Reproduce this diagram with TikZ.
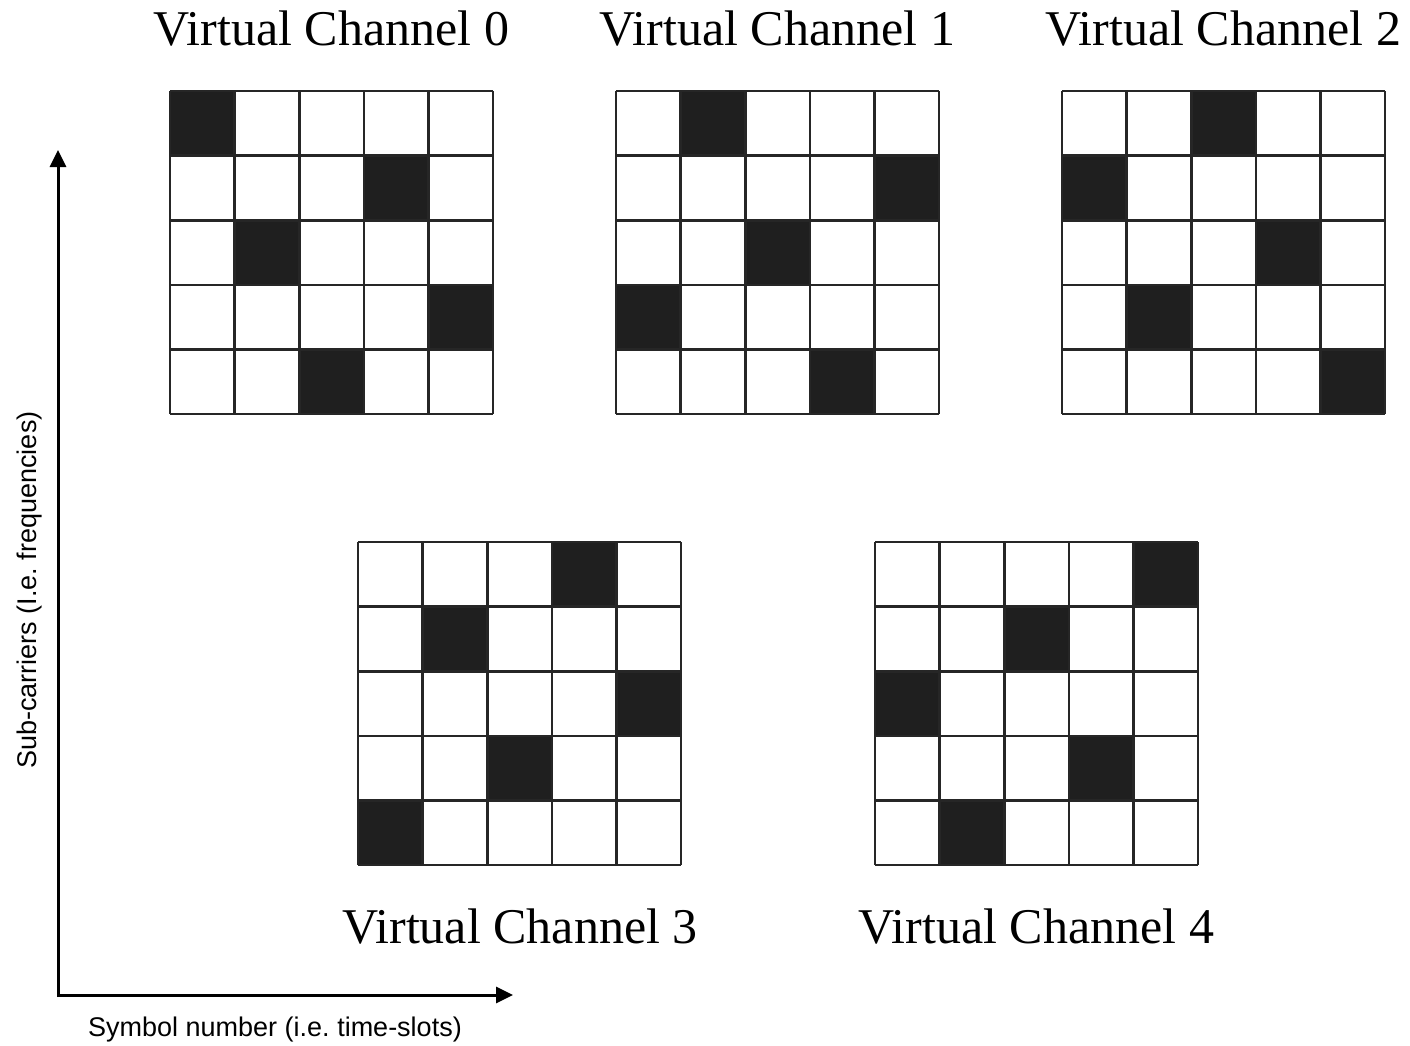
\documentclass[tikz,border=0pt]{standalone}
\usepackage{fontspec}
\setmainfont{Liberation Serif}
\setsansfont{Liberation Sans}
\usetikzlibrary{arrows.meta}
\frenchspacing
\begin{document}
\begin{tikzpicture}[x=1pt,y=-1pt,
  gridline/.style={line width=2.6pt,black!85},
  blackcell/.style={fill=black!88,draw=none},
  title/.style={font=\fontsize{50}{60}\selectfont,anchor=base,inner sep=0pt},
  axislabel/.style={font=\sffamily\fontsize{27}{32}\selectfont\frenchspacing,inner sep=0pt},
  axis/.style={line width=3pt,-{Triangle[length=17pt,width=16pt]}}]
\useasboundingbox[fill=white] (0,0) rectangle (1410,1045);
\def\cs{64.6}
\newcommand\mygrid[3]{%
  \begin{scope}[shift={(#1,#2)}]
    \foreach \r/\c in {#3}{\fill[blackcell] (\c*\cs,\r*\cs) rectangle ++(\cs,\cs);}
    \foreach \i in {0,...,5}{%
      \draw[gridline] (\i*\cs,0) -- (\i*\cs,5*\cs);
      \draw[gridline] (0,\i*\cs) -- (5*\cs,\i*\cs);}
  \end{scope}}
\mygrid{170}{91}{0/0,1/3,2/1,3/4,4/2}
\mygrid{616}{91}{0/1,1/4,2/2,3/0,4/3}
\mygrid{1062}{91}{0/2,1/0,2/3,3/1,4/4}
\mygrid{358}{542}{0/3,1/1,2/4,3/2,4/0}
\mygrid{875}{542}{0/4,1/2,2/0,3/3,4/1}
\node[title] (t0) at (331.5,45) {Virtual Channel 0};
\node[title] (t1) at (777.5,45) {Virtual Channel 1};
\node[title] (t2) at (1223.5,45) {Virtual Channel 2};
\node[title] (t3) at (520,943) {Virtual Channel 3};
\node[title] (t4) at (1036.5,943) {Virtual Channel 4};
% axes
\coordinate (orig) at (58,997);
\coordinate (ytip) at (58,150);
\coordinate (xstart) at (60,995);
\coordinate (xtip) at (513,995);
\draw[axis] (orig) -- (ytip);
\draw[axis] (xstart) -- (xtip);
\node[axislabel,rotate=90] (ylab) at (30,590) {Sub-carriers (I.e. frequencies)};
\node[axislabel] (xlab) at (275,1030) {Symbol number (i.e. time-slots)};
\end{tikzpicture}
\end{document}
